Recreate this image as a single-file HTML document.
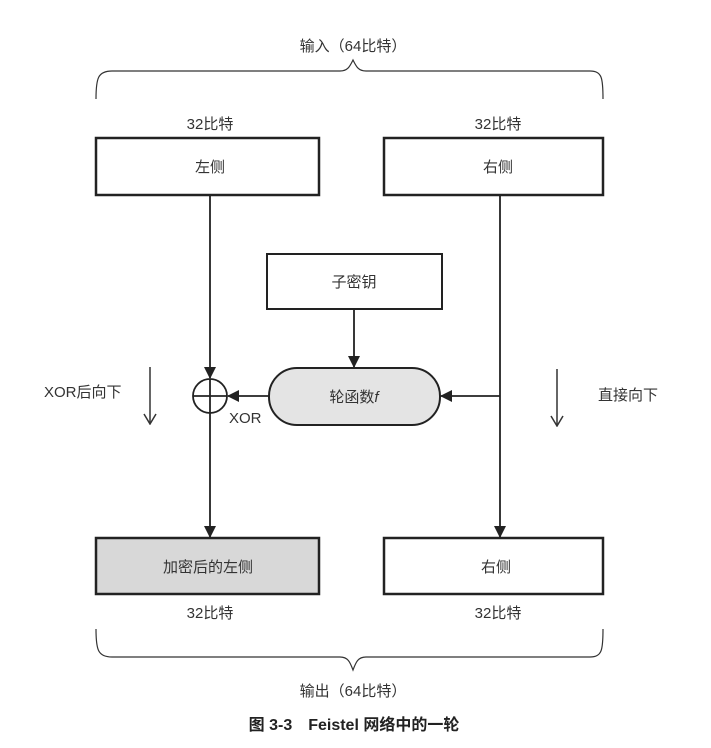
<!DOCTYPE html>
<html><head><meta charset="utf-8"><style>
html,body{margin:0;padding:0;background:#fff;width:711px;height:748px;overflow:hidden}
svg text{font-family:"Liberation Sans","Noto Sans CJK SC",sans-serif;fill:#333}
</style></head><body>
<svg width="711" height="748" viewBox="0 0 711 748" xmlns="http://www.w3.org/2000/svg">
<defs>
<marker id="a" markerWidth="12" markerHeight="12" refX="11" refY="6" orient="auto" markerUnits="userSpaceOnUse">
<path d="M0,0 L12,6 L0,12 Z" fill="#222"/></marker>
<marker id="o" markerWidth="14" markerHeight="14" refX="7" refY="12" orient="0" markerUnits="userSpaceOnUse">
<path d="M1,3 L7,13 L13,3" fill="none" stroke="#333" stroke-width="1.5"/></marker>
</defs>
<g stroke="#333" stroke-width="1.2" fill="none">
<path d="M96,99 C96,78 98,71 112,71 L340,71 C348,71 350,66 353,60 C356,66 358,71 366,71 L590,71 C602,71 603,78 603,99"/>
<path d="M96,629 C96,650 98,657 112,657 L340,657 C348,657 350,662 353,670 C356,662 358,657 366,657 L590,657 C602,657 603,650 603,629"/>
</g>
<text x="353" y="51" font-size="15" text-anchor="middle">输入（64比特）</text>
<text x="210" y="129" font-size="15" text-anchor="middle">32比特</text>
<text x="498" y="129" font-size="15" text-anchor="middle">32比特</text>
<g stroke="#222" stroke-width="2.5" fill="#fff">
<rect x="96" y="138" width="223" height="57"/>
<rect x="384" y="138" width="219" height="57"/>
<rect x="267" y="254" width="175" height="55" stroke-width="2"/>
<rect x="269" y="368" width="171" height="57" rx="28" fill="#e4e4e4" stroke-width="2"/>
<rect x="96" y="538" width="223" height="56" fill="#d8d8d8"/>
<rect x="384" y="538" width="219" height="56"/>
</g>
<text x="210" y="172" font-size="15" text-anchor="middle">左侧</text>
<text x="498" y="172" font-size="15" text-anchor="middle">右侧</text>
<text x="354" y="287" font-size="15" text-anchor="middle">子密钥</text>
<text x="354" y="402" font-size="15" text-anchor="middle">轮函数<tspan font-style="italic">f</tspan></text>
<text x="208" y="572" font-size="15" text-anchor="middle">加密后的左侧</text>
<text x="496" y="572" font-size="15" text-anchor="middle">右侧</text>
<g stroke="#222" stroke-width="1.8" fill="none">
<line x1="210" y1="195" x2="210" y2="378" marker-end="url(#a)"/>
<line x1="354" y1="309" x2="354" y2="367" marker-end="url(#a)"/>
<line x1="500" y1="195" x2="500" y2="537" marker-end="url(#a)"/>
<line x1="500" y1="396" x2="441" y2="396" marker-end="url(#a)"/>
<line x1="269" y1="396" x2="228" y2="396" marker-end="url(#a)"/>
<line x1="210" y1="413" x2="210" y2="537" marker-end="url(#a)"/>
<circle cx="210" cy="396" r="17"/>
<line x1="193" y1="396" x2="227" y2="396"/>
<line x1="210" y1="379" x2="210" y2="413"/>
</g>
<text x="229" y="423" font-size="15">XOR</text>
<text x="44" y="397" font-size="15">XOR后向下</text>
<line x1="150" y1="367" x2="150" y2="423" stroke="#333" stroke-width="1.5" marker-end="url(#o)"/>
<text x="598" y="400" font-size="15">直接向下</text>
<line x1="557" y1="369" x2="557" y2="425" stroke="#333" stroke-width="1.5" marker-end="url(#o)"/>
<text x="210" y="618" font-size="15" text-anchor="middle">32比特</text>
<text x="498" y="618" font-size="15" text-anchor="middle">32比特</text>
<text x="353" y="696" font-size="15" text-anchor="middle">输出（64比特）</text>
<text x="354" y="730" font-size="16" text-anchor="middle" font-weight="bold" style="fill:#222">图 3-3　Feistel 网络中的一轮</text>
</svg>
</body></html>
